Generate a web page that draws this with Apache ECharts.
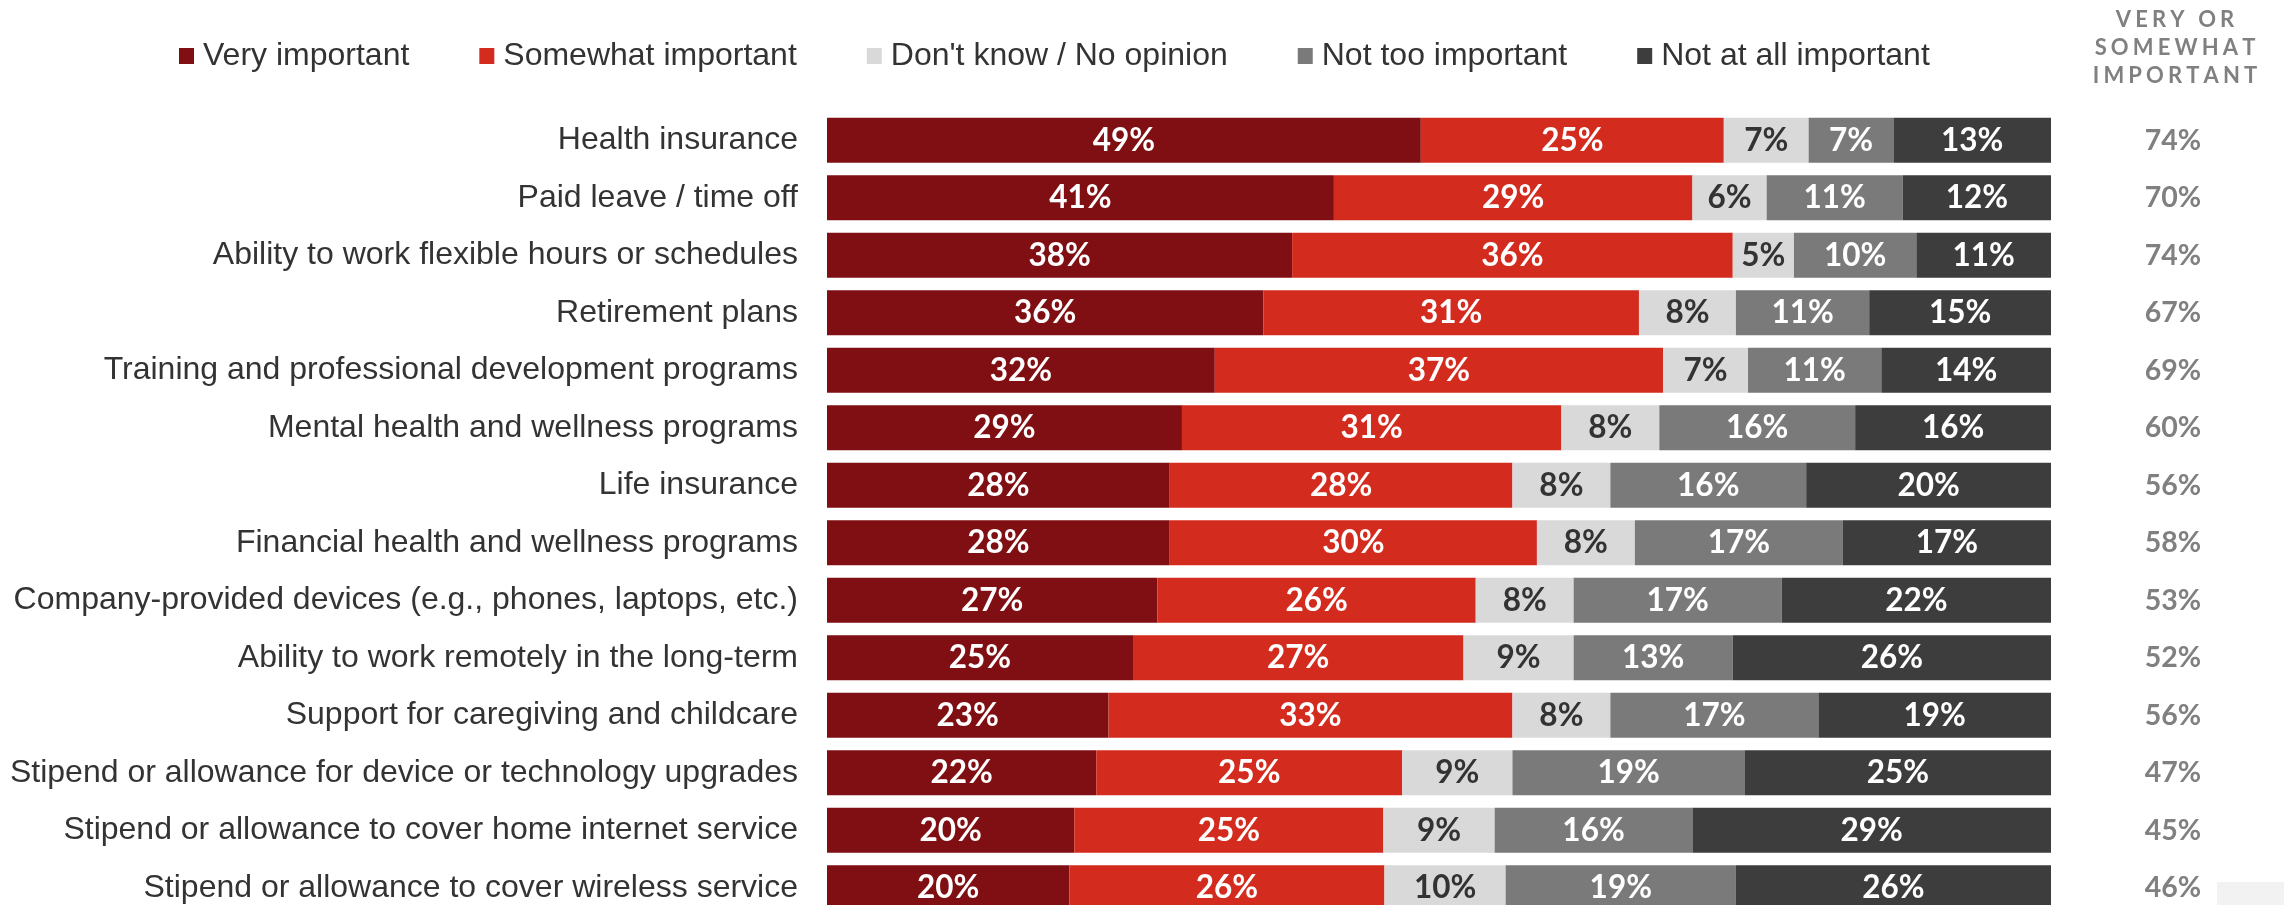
<!DOCTYPE html>
<html>
<head>
<meta charset="utf-8">
<script src="https://cdn.jsdelivr.net/npm/echarts@6/dist/echarts.min.js"></script>
<style>
  html, body { margin: 0; padding: 0; background: #ffffff; }
  #chart { width: 2284px; height: 905px; }
</style>
</head>
<body>
<div id="chart"></div>
<script>
const categories = [
  'Health insurance',
  'Paid leave / time off',
  'Ability to work flexible hours or schedules',
  'Retirement plans',
  'Training and professional development programs',
  'Mental health and wellness programs',
  'Life insurance',
  'Financial health and wellness programs',
  'Company-provided devices (e.g., phones, laptops, etc.)',
  'Ability to work remotely in the long-term',
  'Support for caregiving and childcare',
  'Stipend or allowance for device or technology upgrades',
  'Stipend or allowance to cover home internet service',
  'Stipend or allowance to cover wireless service'
];
const seriesNames = ['Very important', 'Somewhat important', "Don't know / No opinion", 'Not too important', 'Not at all important'];
const veryImportant     = [49, 41, 38, 36, 32, 29, 28, 28, 27, 25, 23, 22, 20, 20];
const somewhatImportant = [25, 29, 36, 31, 37, 31, 28, 30, 26, 27, 33, 25, 25, 26];
const dontKnow          = [7, 6, 5, 8, 7, 8, 8, 8, 8, 9, 8, 9, 9, 10];
const notTooImportant   = [7, 11, 10, 11, 11, 16, 16, 17, 17, 13, 17, 19, 16, 19];
const notAtAll          = [13, 12, 11, 15, 14, 16, 20, 17, 22, 26, 19, 25, 29, 26];
const veryOrSomewhat    = [74, 70, 74, 67, 69, 60, 56, 58, 53, 52, 56, 47, 45, 46];
const headerLines = ['VERY OR', 'SOMEWHAT', 'IMPORTANT'];

const colors = ['#7f0f12', '#d42b1f', '#d9d9d9', '#7a7a7a', '#3d3d3d'];
const labelColors = ['#ffffff', '#ffffff', '#333333', '#ffffff', '#ffffff'];
const raw = [veryImportant, somewhatImportant, dontKnow, notTooImportant, notAtAll];

// each bar spans the full width: show each answer as its share of the row total
const rowSums = categories.map((_, i) => raw.reduce((s, arr) => s + arr[i], 0));

const labelFont = 'Lato, "Open Sans", sans-serif';
const textFont = '"Liberation Sans", Arial, sans-serif';

const series = raw.map((arr, k) => ({
  name: seriesNames[k],
  type: 'bar',
  stack: 'total',
  barWidth: 45,
  itemStyle: { color: colors[k] },
  emphasis: { disabled: true },
  label: {
    show: true,
    position: 'inside',
    color: labelColors[k],
    fontFamily: labelFont,
    fontWeight: 'bold',
    fontSize: 31.5,
    formatter: (p) => arr[p.dataIndex] + '%'
  },
  data: arr.map((v, i) => v / rowSums[i] * 100)
}));

const spaced = (s) => s.split('').join('\u2009\u200A');

const chart = echarts.init(document.getElementById('chart'), null, { renderer: 'canvas' });
chart.setOption({
  animation: false,
  backgroundColor: '#ffffff',
  color: colors,
  legend: {
    left: 174,
    top: 35,
    orient: 'horizontal',
    icon: 'rect',
    itemWidth: 15,
    itemHeight: 16,
    itemGap: 70,
    selectedMode: false,
    textStyle: {
      fontFamily: textFont,
      fontSize: 32,
      color: '#333333',
      padding: [0, 0, 0, 4],
      verticalAlign: 'middle'
    },
    data: seriesNames
  },
  grid: { left: 827, right: 233, top: 111.6, height: 805, containLabel: false, outerBoundsMode: 'none' },
  xAxis: { type: 'value', min: 0, max: 100, show: false },
  yAxis: [
    {
      type: 'category',
      inverse: true,
      data: categories,
      axisLine: { show: false },
      axisTick: { show: false },
      axisLabel: {
        fontFamily: textFont,
        fontSize: 32,
        color: '#333333',
        margin: 29
      }
    },
    {
      type: 'category',
      inverse: true,
      position: 'right',
      data: veryOrSomewhat,
      axisLine: { show: false },
      axisTick: { show: false },
      axisLabel: {
        fontFamily: labelFont,
        fontWeight: 'bold',
        fontSize: 28.5,
        color: '#808080',
        align: 'center',
        margin: 122,
        formatter: (v) => v + '%'
      }
    }
  ],
  graphic: [
    {
      type: 'text',
      x: 2175,
      y: 6,
      style: {
        text: headerLines.map(spaced).join('\n'),
        fontFamily: labelFont,
        fontWeight: 'bold',
        fontSize: 22,
        lineHeight: 28,
        fill: '#808080',
        align: 'center',
        verticalAlign: 'top'
      }
    },
    {
      type: 'rect',
      shape: { x: 2217, y: 882, width: 67, height: 23 },
      style: { fill: '#f2f2f2' },
      silent: true
    }
  ],
  series: series
});
</script>
</body>
</html>
